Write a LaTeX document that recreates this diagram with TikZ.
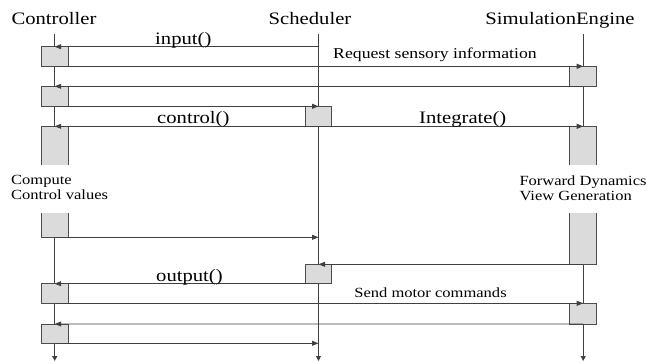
\documentclass[tikz,border=0pt]{standalone}
\usepackage{fontspec}
\setmainfont{Liberation Serif}[FakeStretch=1.18]
\usetikzlibrary{arrows.meta}
\begin{document}
\begin{tikzpicture}[x=1pt,y=-1pt,
  life/.style={draw=black!75, line width=0.9pt, -{Triangle[length=5pt,width=5pt]}},
  msg/.style={draw=black!75, line width=0.9pt, -{Triangle[length=6.5pt,width=5pt]}},
  act/.style={draw=black!70, fill=black!14, line width=0.9pt, minimum width=26.7pt,
    minimum height=#1, inner sep=0pt, outer sep=0pt},
  big/.style={font=\fontsize{17.5}{20}\selectfont, inner sep=0pt},
  small/.style={font=\fontsize{14}{15}\selectfont, inner sep=0pt}]
\useasboundingbox (0,0) rectangle (647,362);

% lifeline ends
\coordinate (cTop) at (54.7,34);  \coordinate (cEnd) at (54.7,361);
\coordinate (sTop) at (318.5,34); \coordinate (sEnd) at (318.5,361);
\coordinate (eTop) at (583.2,34); \coordinate (eEnd) at (583.2,361);

% participants
\node[big, anchor=base] (tc) at (54,24) {Controller};
\node[big, anchor=base] (ts) at (310,24) {Scheduler};
\node[big, anchor=base] (te) at (560,24) {SimulationEngine};

% lifelines
\draw[life] (cTop) -- (cEnd);
\draw[life] (sTop) -- (sEnd);
\draw[life] (eTop) -- (eEnd);

% activation bars
\node[act=19.6pt] (c1) at (54.7,56.5) {};
\node[act=20pt]   (c2) at (54.7,96.3) {};
\node[act=111pt]  (c3) at (54.7,181.8) {};
\node[act=19.6pt] (c4) at (54.7,293.5) {};
\node[act=19.3pt] (c5) at (54.7,333.65) {};
\node[act=20pt]   (s1) at (318.5,116.3) {};
\node[act=19.4pt] (s2) at (318.5,274) {};
\node[act=20pt]   (e1) at (583.2,76.3) {};
\node[act=138pt]  (e2) at (583.2,195.3) {};
\node[act=20.7pt] (e3) at (583.2,313.65) {};

% breaks in the long bars for the notes
\fill[white] (38,165) rectangle (71,213);
\fill[white] (567,165) rectangle (600,213);
\node[small, anchor=north west, align=left] (compute) at (11,175.5) {Compute\\Control values};
\node[small, anchor=north west, align=left] (fwd) at (519.3,175.5) {Forward Dynamics\\View Generation};

% messages
\draw[msg] (c1.north -| sTop) -- (c1.north);
\draw[msg] (c1.south) -- (e1.north);
\draw[msg] (e1.south) -- (c2.north);
\draw[msg] (c2.south) -- (s1.north);
\draw[msg] (s1.south) -- (c3.north);
\draw[msg] (s1.south) -- (e2.north);
\draw[msg] (c3.south) -- (c3.south -| sTop);
\draw[msg] (e2.south) -- (s2.north);
\draw[msg] (s2.south) -- (c4.north);
\draw[msg] (c4.south) -- (e3.north);
\draw[msg] (e3.south) -- (c5.north);
\draw[msg] (c5.south) -- (c5.south -| sTop);

% message labels
\node[big, anchor=base west] (lin)  at (155,44)    {input()};
\node[small, anchor=base, font=\fontsize{15}{16}\selectfont] (lreq) at (435,58) {Request sensory information};
\node[big, anchor=base west] (lctl) at (157,123.5) {control()};
\node[big, anchor=base west] (lint) at (419,123.5) {Integrate()};
\node[big, anchor=base west] (lout) at (156,281)   {output()};
\node[small, anchor=base]    (lsnd) at (430.5,297) {Send motor commands};
\end{tikzpicture}
\end{document}
